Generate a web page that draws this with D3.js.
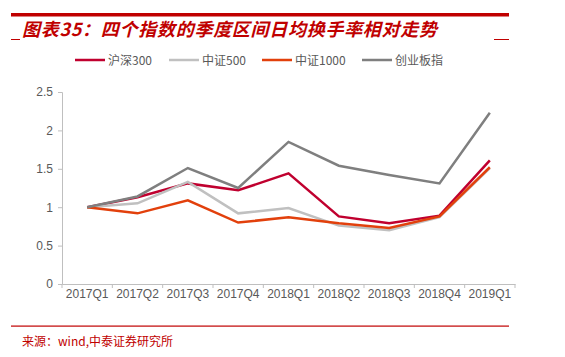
<!DOCTYPE html>
<html><head><meta charset="utf-8">
<script src="https://cdn.jsdelivr.net/npm/d3@7"></script>
<style>body{margin:0;background:#fff;}svg{display:block;}</style>
</head><body>
<svg id="c" width="565" height="357"></svg>
<script>
const categories = ["2017Q1","2017Q2","2017Q3","2017Q4","2018Q1","2018Q2","2018Q3","2018Q4","2019Q1"];
const hs300  = [1.0, 1.13, 1.31, 1.22, 1.44, 0.88, 0.79, 0.89, 1.61];
const zz500  = [1.0, 1.05, 1.33, 0.92, 0.99, 0.76, 0.70, 0.87, 1.51];
const zz1000 = [1.0, 0.92, 1.09, 0.80, 0.87, 0.79, 0.73, 0.88, 1.52];
const cyb    = [1.0, 1.14, 1.51, 1.25, 1.85, 1.54, 1.42, 1.31, 2.23];
const yTicks = [0, 0.5, 1, 1.5, 2, 2.5];
const seriesNames = ["沪深300","中证500","中证1000","创业板指"];
const seriesColors = ["#c0002f","#c0c0c0","#e2400c","#7f7f7f"];
const seriesData = [hs300, zz500, zz1000, cyb];

const svg = d3.select("#c");
const red = "#c00000";

// top bar & title
svg.append("rect").attr("x",11).attr("y",13).attr("width",498).attr("height",3.5).attr("fill",red);
svg.append("line").attr("x1",11).attr("x2",20).attr("y1",39.5).attr("y2",39.5).attr("stroke",red).attr("stroke-width",1);
svg.append("line").attr("x1",494).attr("x2",509).attr("y1",39.5).attr("y2",39.5).attr("stroke",red).attr("stroke-width",1);
svg.append("text").attr("x",22).attr("y",36)
  .attr("font-family","'Noto Sans CJK SC', sans-serif").attr("font-size",18).attr("font-weight","bold")
  .attr("font-style","italic").attr("fill",red)
  .attr("textLength",415).attr("lengthAdjust","spacing")
  .text("图表35：四个指数的季度区间日均换手率相对走势");

// scales
const x = d3.scaleBand().domain(categories).range([62,515]);
const y = d3.scaleLinear().domain([0,2.5]).range([284,92]);

// y axis
const yAxis = d3.axisLeft(y).tickValues(yTicks).tickSize(4).tickFormat(d3.format("~g"));
const gy = svg.append("g").attr("transform","translate(62,0)").call(yAxis);
gy.select(".domain").attr("stroke","#bfbfbf");
gy.selectAll(".tick line").attr("stroke","#bfbfbf");
gy.selectAll(".tick text").attr("font-family","Arial, 'Liberation Sans', sans-serif").attr("font-size",12).attr("fill","#595959").attr("x",-9);

// x axis
const xAxis = d3.axisBottom(x).tickSizeInner(0).tickSizeOuter(0);
const gx = svg.append("g").attr("transform","translate(0,284)").call(xAxis);
gx.select(".domain").attr("stroke","#bfbfbf");
gx.selectAll(".tick text").attr("font-family","Arial, 'Liberation Sans', sans-serif").attr("font-size",12).attr("fill","#595959").attr("dy","0.9em").attr("y",3);
// band boundary tick marks
const bounds = categories.map(c=>x(c)).concat([x.range()[1]]);
gx.selectAll(".bt").data(bounds).enter().append("line")
  .attr("x1",d=>d).attr("x2",d=>d).attr("y1",0).attr("y2",4).attr("stroke","#bfbfbf");

// lines
const line = d3.line().x((d,i)=>x(categories[i])+x.bandwidth()/2).y(d=>y(d));
seriesData.forEach((s,k)=>{
  svg.append("path").datum(s).attr("d",line).attr("fill","none")
    .attr("stroke",seriesColors[k]).attr("stroke-width",2.5).attr("stroke-linejoin","miter");
});

// legend
const legX = [75,169,262,362];
seriesNames.forEach((n,k)=>{
  svg.append("line").attr("x1",legX[k]).attr("x2",legX[k]+30).attr("y1",60).attr("y2",60)
    .attr("stroke",seriesColors[k]).attr("stroke-width",2.5);
  svg.append("text").attr("x",legX[k]+33).attr("y",64.5)
    .attr("font-family","'Noto Sans CJK SC', sans-serif").attr("font-size",12).attr("fill","#595959").text(n);
});

// bottom line & source
svg.append("rect").attr("x",11).attr("y",325.5).attr("width",498).attr("height",1.2).attr("fill",red);
svg.append("text").attr("x",22).attr("y",346)
  .attr("font-family","'Noto Sans CJK SC', sans-serif").attr("font-size",12).attr("fill",red)
  .text("来源：wind,中泰证券研究所");
</script>
</body></html>
